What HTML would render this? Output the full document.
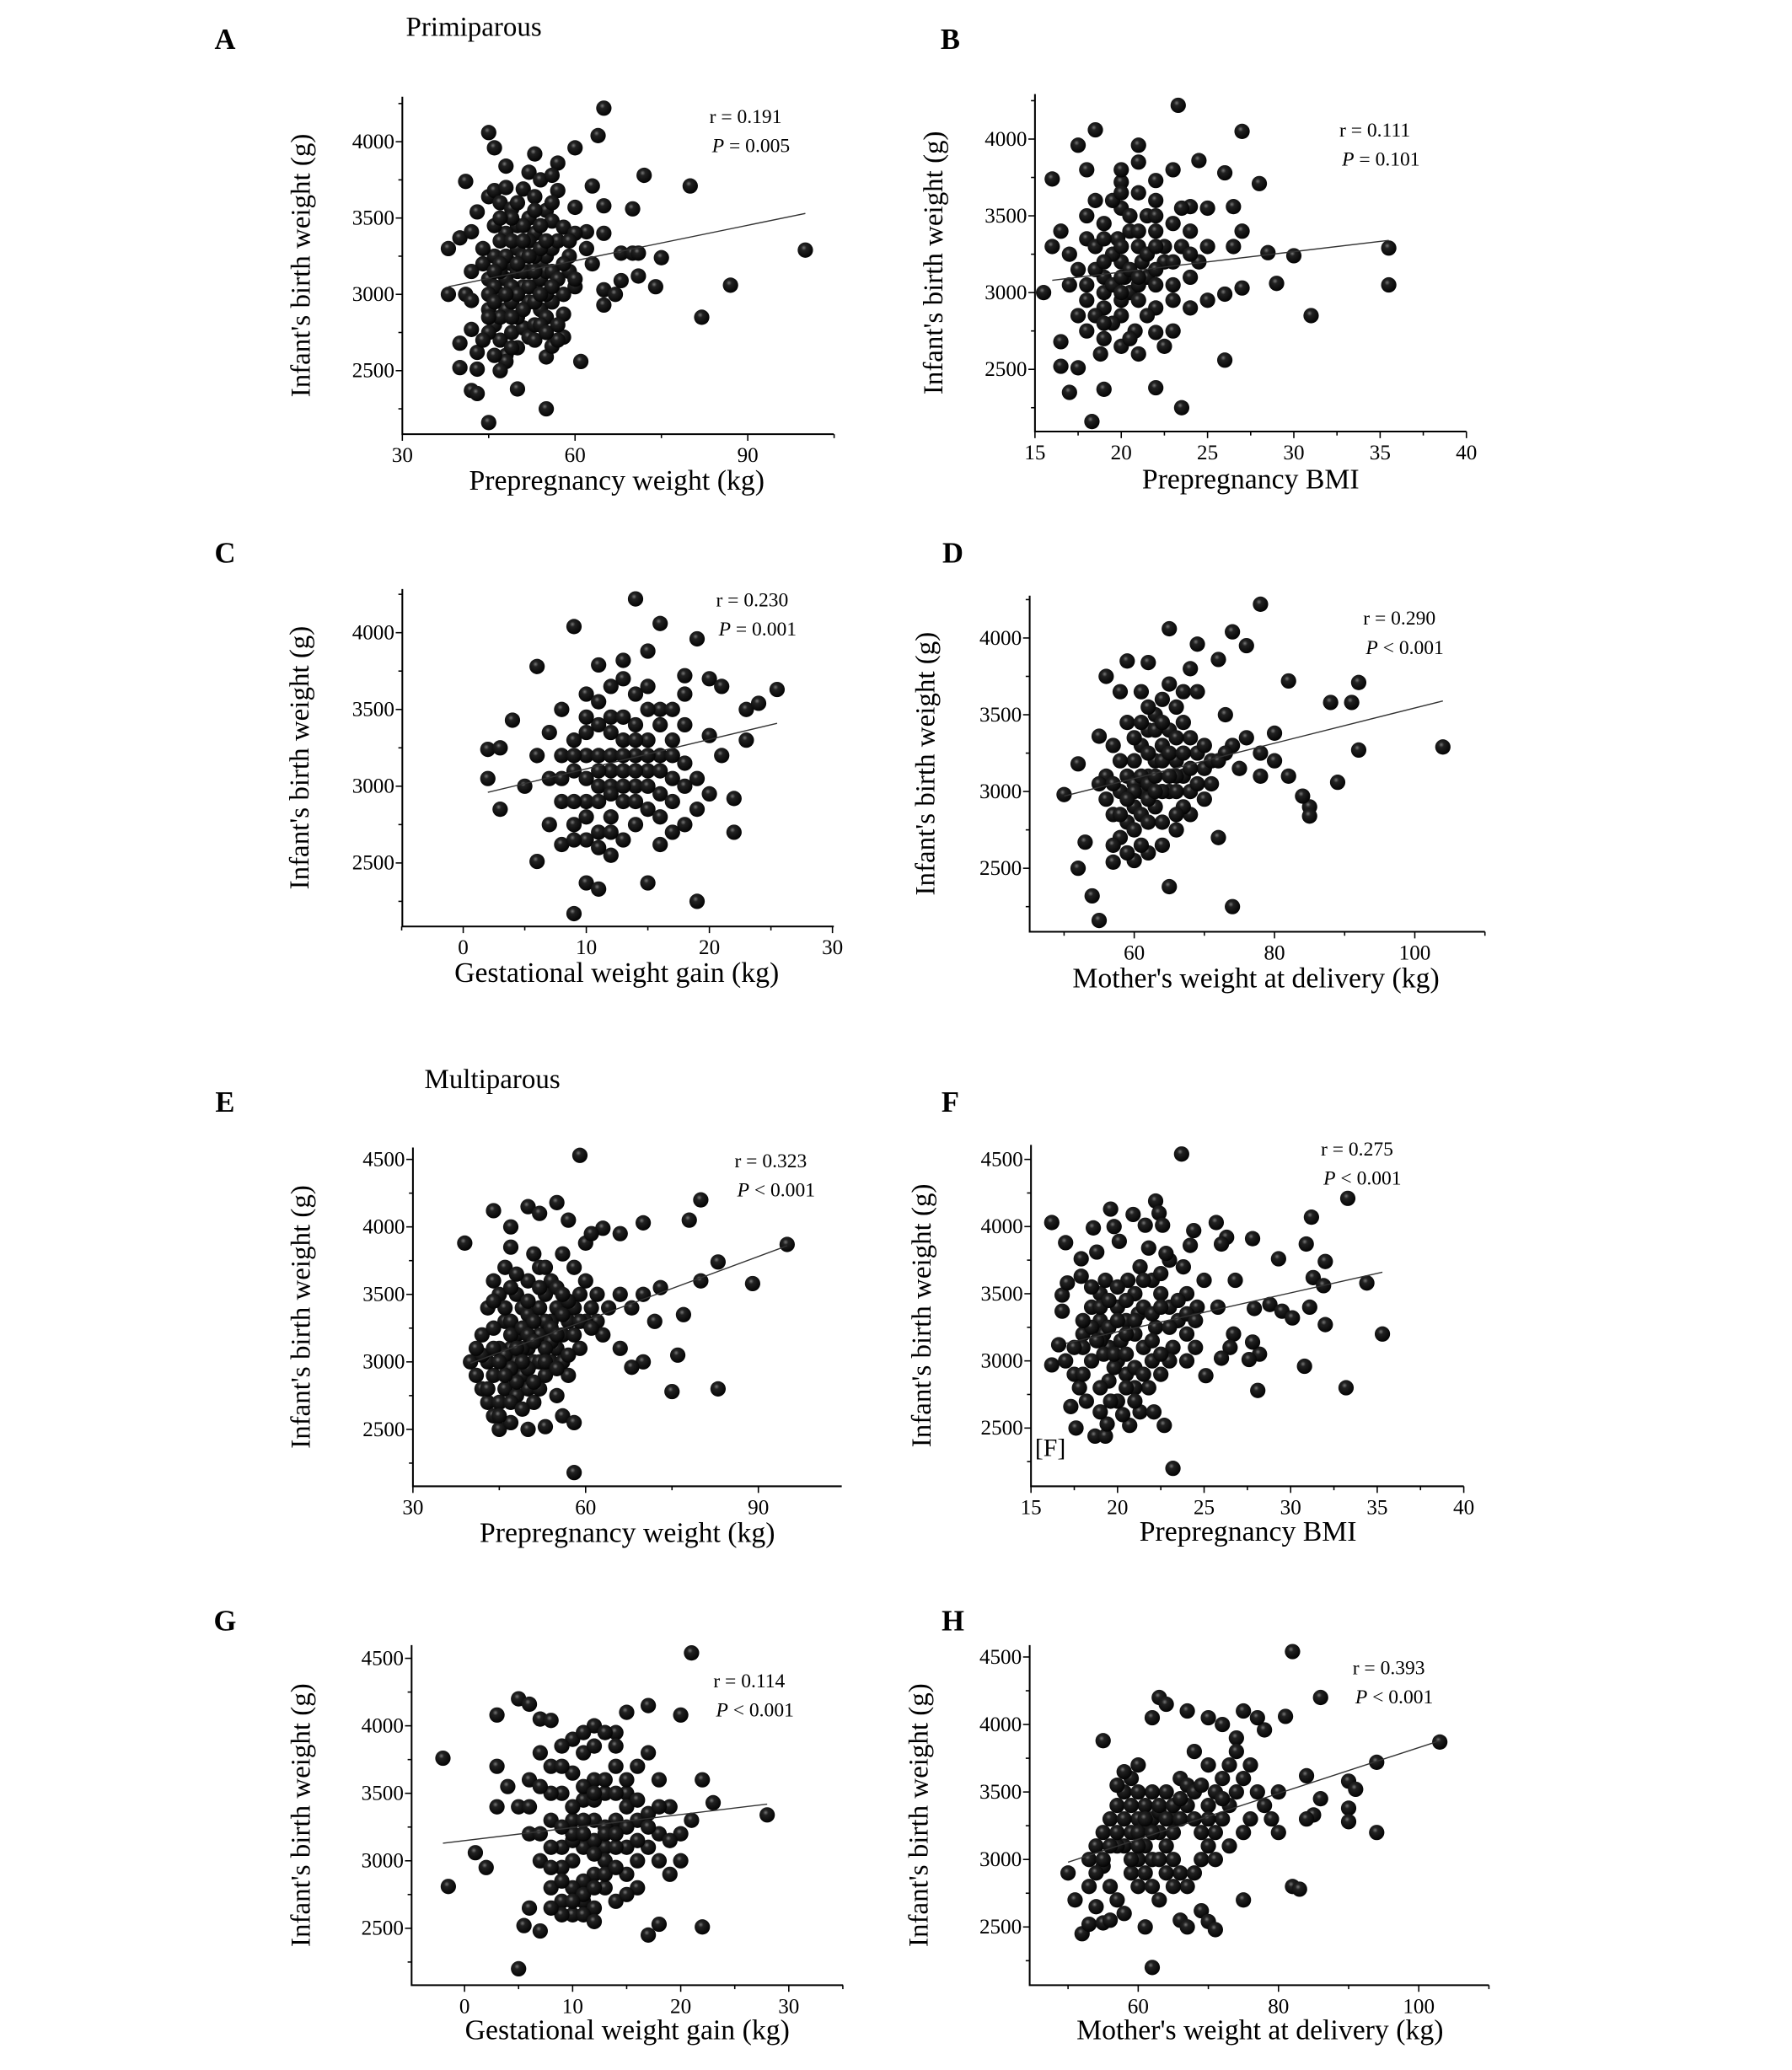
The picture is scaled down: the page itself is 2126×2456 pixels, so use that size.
<!DOCTYPE html>
<html><head><meta charset="utf-8"><style>
html,body{margin:0;padding:0;background:#fff;}
svg{display:block;font-family:"Liberation Serif",serif;}
</style></head><body>
<svg id="fig" width="2126" height="2456" viewBox="0 0 1354 1564" xmlns="http://www.w3.org/2000/svg">
<defs><radialGradient id="ball" cx="0.4" cy="0.35" r="0.7"><stop offset="0" stop-color="#777"/><stop offset="0.25" stop-color="#222"/><stop offset="1" stop-color="#000"/></radialGradient></defs>
<text x="358" y="27" font-size="21" text-anchor="middle">Primiparous</text>
<text x="372" y="822" font-size="21" text-anchor="middle">Multiparous</text>
</svg>
<script>
const ptsA=[[65,4220],[64,4040],[45,4060],[46,3960],[53,3920],[60,3960],[48,3840],[52,3800],[57,3860],[41,3740],[72,3780],[80,3710],[63,3710],[70,3560],[60,3570],[65,3580],[43,3540],[38,3300],[40,3370],[42,3410],[65,3400],[62,3410],[68,3270],[70,3270],[71,3270],[75,3240],[100,3290],[87,3060],[74,3050],[71,3120],[68,3090],[65,3030],[65,2930],[67,3000],[82,2850],[38,3000],[41,3000],[42,2960],[40,2680],[40,2520],[43,2510],[42,2770],[43,2620],[42,2370],[43,2350],[50,2380],[55,2250],[45,2160],[61,2560],[55,2590],[56,2660],[58,2720],[58,2870],[44,3200],[42,3150],[45,3640],[46,3680],[47,3600],[49,3560],[51,3690],[53,3640],[54,3750],[56,3780],[57,3680],[55,3550],[56,3480],[58,3440],[60,3400],[62,3300],[63,3200],[59,3150],[60,3050],[60,3100],[58,3000],[45,2900],[46,2800],[47,2700],[48,2600],[48,2560],[49,2750],[50,2650],[51,2780],[52,2720],[53,2800],[54,2900],[55,2850],[56,2950],[57,2700],[47,3000],[48,3100],[49,3200],[50,3300],[51,3250],[52,3150],[53,3050],[54,3200],[55,3250],[56,3300],[57,3350],[53,3400],[52,3500],[50,3450],[48,3400],[47,3350],[46,3250],[45,3100],[44,3300],[46,3050],[48,2900],[50,2850],[52,2950],[54,3100],[55,3150],[51,3050],[49,2950],[47,2850],[45,2750],[46,3450],[48,3700],[50,3600],[52,3350],[54,3450],[56,3150],[44,2700],[46,2600],[49,3050],[51,2900],[53,3250],[55,3000],[57,3100],[59,3250]];
const coreA=[[45,3000],[46,2950],[47,3150],[48,3250],[49,3350],[50,3150],[51,3150],[52,3050],[53,3150],[54,3300],[55,3350],[56,3050],[47,3200],[49,2850],[50,3000],[51,3350],[53,2950],[54,2800],[52,3250],[50,3200],[46,3150],[48,3000],[45,2850],[47,2500],[49,2650],[53,2700],[55,2750],[57,2800],[58,3200],[59,3350],[51,3450],[49,3500],[47,3500],[53,3550],[56,3600],[54,3000]];
const ptsB=[[23.3,4220],[27,4050],[18.5,4060],[17.5,3960],[21,3960],[23,3800],[24.5,3860],[26,3780],[28,3710],[16,3740],[18,3800],[20,3720],[22,3730],[24,3560],[26.5,3560],[27,3400],[28.5,3260],[30,3240],[35.5,3290],[35.5,3050],[31,2850],[29,3060],[27,3030],[26,2560],[22,2380],[23.5,2250],[18.3,2160],[17,2350],[19,2370],[16.5,2680],[16.5,2520],[17.5,2510],[15.5,3000],[16,3300],[16.5,3400],[17,3250],[24,3100],[25,3300],[26,2990],[25,2950],[23,2750],[22,2740],[21,2600],[20,2650],[19,2700],[18,2750],[17.5,2850],[18,2950],[19,3100],[20,3200],[21,3300],[22,3400],[23,3450],[19,3450],[18,3350],[20,3550],[21,3650],[19.5,3600],[20.5,3000],[21.5,3100],[22.5,3200],[23.5,3300],[19,2900],[20,2850],[21,2950],[22,3050],[18.5,3150],[19.5,3250],[20.5,3400],[21.5,3500],[22,3600],[20,3800],[21,3850],[24,3400],[25,3550],[23,3050],[24,2900],[22,2900],[18,3500],[17,3050],[20,2950],[19,3000],[20.2,3100],[21.2,3200],[19.8,3350],[20.8,2750],[18.8,2600],[22.5,2650],[24.5,3200],[26.5,3300]];
const coreB=[[19.5,3050],[20,3100],[20.5,3150],[21,3050],[19,3200],[18.5,3300],[20,3300],[21,3400],[22,3150],[22.5,3300],[19.5,2800],[20.5,2700],[21.5,2850],[18.5,2850],[17.5,3150],[19,3350],[20.5,3500],[21.5,3250],[22,3300],[23,3200],[23.5,3550],[19,2800],[20,3000],[21,3100],[18,3050],[22,3500],[20,3650],[18.5,3600],[24,3250],[23,2950]];
const ptsC=[[14,4220],[9,4040],[16,4060],[19,3960],[6,3780],[15,3880],[13,3820],[11,3790],[18,3720],[20,3700],[21,3650],[4,3430],[2,3240],[3,3250],[2,3050],[3,2850],[6,2510],[8,2620],[9,2170],[10,2370],[11,2330],[15,2370],[19,2250],[22,2700],[22,2920],[23,3300],[23,3500],[25.5,3630],[24,3540],[21,3200],[19,3050],[18,2750],[17,2700],[20,3330],[16,3500],[14,3600],[12,3650],[10,3600],[8,3500],[7,3350],[6,3200],[7,3050],[8,2900],[9,2750],[10,2650],[11,2700],[12,2800],[13,2900],[14,3000],[15,3100],[16,3200],[17,3300],[18,3400],[12,3100],[11,3000],[10,3200],[9,3100],[13,3300],[14,3400],[15,3500],[12,3450],[11,3400],[10,3350],[9,3300],[8,3200],[13,2650],[14,2750],[15,2850],[16,2950],[17,3050],[18,3150],[7,2750],[8,3050],[5,3000],[12,2550],[16,2620],[19,2850],[20,2950],[11,3200],[13,3100],[12,3000],[10,2900],[14,3200],[15,3300],[17,3500],[18,3600]];
const coreC=[[10,3050],[11,3100],[12,3200],[13,3000],[14,3100],[15,3000],[16,3100],[11,2900],[12,2700],[10,2800],[9,2900],[9,3200],[13,3200],[14,2900],[15,3200],[16,3400],[17,3200],[12,3350],[11,3550],[13,3450],[10,3450],[9,2650],[11,2600],[12,2950],[14,3300],[16,2800],[18,3000],[13,3700],[15,3650],[17,2900]];
const ptsD=[[78,4220],[65,4060],[74,4040],[76,3950],[69,3960],[72,3860],[62,3840],[68,3800],[56,3750],[82,3720],[92,3710],[91,3580],[88,3580],[104,3290],[92,3270],[89,3060],[85,2900],[85,2840],[84,2970],[80,3380],[78,3250],[55,3360],[52,3180],[50,2980],[53,2670],[52,2500],[54,2320],[55,2160],[57,2540],[65,2380],[74,2250],[72,2700],[78,3100],[75,3150],[71,3050],[70,2950],[68,2850],[66,2750],[64,2650],[62,2600],[60,2550],[58,2700],[57,2850],[58,3000],[59,3100],[60,3200],[61,3300],[62,3400],[63,3500],[64,3600],[65,3700],[66,3550],[67,3450],[68,3350],[69,3250],[70,3150],[60,2900],[61,3000],[62,3100],[63,3200],[64,3300],[65,3400],[66,3200],[67,3100],[68,3000],[63,2900],[64,2800],[65,3000],[66,3100],[56,3100],[57,3300],[59,3450],[61,3650],[73,3500],[74,3300],[76,3350],[82,3100],[80,3200],[58,3650],[55,3050],[60,3050],[62,2950],[61,2850],[59,2800],[67,2900],[69,3050],[71,3200],[73,3250]];
const coreD=[[60,3000],[61,3100],[62,3050],[63,3100],[64,3000],[65,3100],[66,3000],[59,2950],[58,2850],[60,2750],[61,2650],[62,2800],[63,3000],[64,3200],[65,3250],[66,3350],[67,3250],[68,3150],[63,3400],[62,3550],[60,3350],[58,3200],[57,3050],[56,2950],[57,2650],[59,2600],[66,2850],[67,3650],[70,3300],[72,3200],[69,3650],[59,3850],[62,3250],[64,3450],[61,3450]];
const ptsE=[[59,4530],[80,4200],[39,3880],[95,3870],[78,4050],[83,3740],[89,3580],[80,3600],[77,3350],[76,3050],[83,2800],[75,2780],[58,2180],[70,4030],[66,3950],[63,3990],[44,4120],[47,4000],[50,4150],[52,4100],[55,4180],[57,4050],[60,3880],[61,3950],[73,3550],[70,3500],[68,3400],[72,3300],[70,3000],[68,2960],[66,3100],[40,3000],[41,2900],[42,2800],[43,2700],[44,2600],[45,2500],[47,2550],[50,2500],[53,2520],[56,2600],[58,2550],[42,3200],[43,3400],[44,3600],[45,3500],[46,3300],[47,3100],[48,3000],[49,2900],[50,2800],[51,2700],[52,2800],[53,2900],[54,3000],[55,3100],[56,3200],[57,3300],[58,3400],[59,3500],[60,3600],[61,3400],[62,3300],[63,3200],[48,3200],[49,3400],[50,3600],[51,3800],[52,3700],[53,3500],[54,3300],[55,3400],[46,3700],[47,3850],[48,3500],[45,3100],[44,2900],[46,2800],[50,3100],[52,3200],[54,3600],[56,3800],[58,3700],[60,3300],[62,3500],[64,3400],[66,3500],[57,2900],[59,3100],[55,2750],[53,3300],[51,3000],[49,3100],[47,3300],[45,2700],[43,3000],[46,3050],[48,2750],[50,3350],[52,3000],[54,3150],[56,3000],[44,3250],[42,3050]];
const coreE=[[47,3200],[48,3100],[49,3250],[50,3200],[51,3300],[52,3400],[53,3100],[54,3250],[55,3200],[56,3350],[57,3450],[51,3150],[50,2950],[49,3000],[48,2850],[47,2950],[46,2900],[45,3000],[44,3100],[46,3400],[47,3550],[48,3650],[50,3450],[52,3550],[53,3700],[55,3550],[56,3500],[58,3200],[59,3300],[61,3250],[45,2600],[47,2700],[49,2650],[51,2850],[53,3000],[55,2950],[57,3050],[43,2800],[41,3100],[44,3450]];
const ptsF=[[23.7,4540],[33.3,4210],[22.2,4190],[19.6,4130],[20.9,4090],[22.4,4100],[16.2,4030],[18.6,3990],[19.8,4000],[21.6,4010],[22.6,4010],[25.7,4030],[24.4,3970],[26.3,3920],[27.8,3910],[31.2,4070],[30.9,3870],[17,3880],[20.1,3890],[21.8,3840],[24.2,3860],[26,3870],[17.9,3760],[18.8,3810],[29.3,3760],[32,3740],[31.3,3620],[31.9,3560],[34.4,3580],[35.3,3200],[33.2,2800],[30.8,2960],[28.1,2780],[28.2,3050],[28.8,3420],[29.5,3370],[30.1,3320],[31.1,3400],[32,3270],[27.9,3390],[27.8,3140],[26.7,3200],[26.5,3100],[27.6,3010],[26,3020],[25.1,2890],[22.7,2520],[23.2,2200],[17.6,2500],[18.7,2440],[19.3,2440],[19.4,2530],[20.7,2520],[16.2,2970],[16.6,3120],[17,3000],[16.8,3370],[16.8,3490],[17.1,3580],[17.9,3630],[17.3,2660],[17.8,2800],[18.2,2700],[19,2620],[20.3,2600],[21.3,2620],[22.1,2620],[21.8,2800],[18,3200],[18.5,3400],[19,3300],[19.5,3100],[20,3000],[20.5,2900],[21,2800],[19,3500],[19.3,3600],[20,3400],[20.5,3300],[21,3200],[21.5,3100],[22,3000],[22.5,2900],[21,3500],[21.3,3700],[22,3600],[22.5,3500],[23,3400],[23.5,3300],[24,3200],[24.5,3100],[24,3500],[24.6,3400],[25,3600],[25.8,3400],[26.8,3600],[23,3750],[22.8,3800],[23.8,3700],[18.5,3000],[19.5,2850],[20,2700],[17.5,2900],[18,3100],[19.2,3200],[20.2,3150],[21.2,3350],[22.2,3250],[23.2,3100],[23,3000],[24,3000],[20.6,3600],[19.8,2950]];
const coreF=[[19,3150],[19.5,3250],[20,3300],[20.5,3200],[21,3300],[21.5,3400],[22,3350],[18.5,3250],[18.8,3150],[19.2,3050],[19.8,3050],[20.5,3050],[21,2950],[21.5,2900],[22,3150],[22.5,3050],[23,3250],[23.5,3450],[24,3350],[19,3400],[19.5,3450],[20,3550],[20.5,3450],[21.5,3600],[22.5,3650],[18.5,3550],[19,2800],[19.6,2700],[20.5,2800],[21,2700],[18,2900],[17.5,3100],[18,3300],[22.5,3400],[24.5,3300]];
const ptsG=[[21,4540],[-2,3760],[-1.5,2810],[3,4080],[5,4200],[6,4160],[7,4050],[8,4040],[15,4100],[17,4150],[20,4080],[12,4000],[14,3950],[22,3600],[23,3430],[28,3340],[22,2510],[18,2530],[17,2450],[5,2200],[5.5,2520],[7,2480],[6,2650],[2,2950],[1,3060],[3,3400],[4,3550],[3,3700],[20,3000],[20,3200],[19,3400],[18,3600],[17,3800],[16,3700],[15,3500],[14,3300],[13,3100],[12,2900],[11,2700],[10,2600],[9,2700],[8,2800],[7,3000],[6,3200],[5,3400],[6,3600],[7,3800],[8,3700],[9,3500],[10,3300],[11,3100],[12,3300],[13,3500],[14,3700],[10,3900],[9,3100],[8,3300],[10,3000],[11,3450],[12,3600],[13,2800],[14,2700],[15,2900],[16,3000],[17,3100],[18,3200],[16,3300],[15,3100],[11,2850],[9,2950],[7,3200],[8,3500],[12,3150],[13,3250],[10,3400],[16,2800],[19,2900],[21,3300],[9,3850],[11,3950],[10,3150],[11,3300],[12,3450],[13,3000],[14,3100],[15,3250],[9,2600],[12,2650]];
const coreG=[[10,3200],[11,3200],[12,3050],[13,3200],[14,3200],[15,3400],[16,3450],[17,3350],[18,3400],[9,3250],[8,3100],[10,2800],[11,2750],[12,2800],[13,2900],[14,2950],[9,2850],[8,2650],[10,2700],[11,3550],[12,3500],[13,3600],[14,3500],[15,3600],[10,3650],[9,3700],[11,3800],[12,3850],[16,3150],[17,3250],[18,3000],[19,3150],[15,2750],[14,3850],[13,3950],[6,3400],[7,3550],[8,2950],[11,2600],[12,2550]];
const ptsH=[[82,4540],[86,4200],[81,4060],[103,3870],[94,3720],[90,3580],[91,3520],[90,3380],[90,3280],[94,3200],[85,3330],[82,2800],[83,2780],[84,3620],[78,3960],[77,4050],[75,4100],[72,4000],[70,4050],[67,4100],[63,4200],[64,4150],[62,4050],[55,3880],[51,2700],[52,2450],[53,2520],[55,2530],[58,2600],[61,2500],[62,2200],[66,2550],[67,2500],[69,2620],[70,2540],[71,2480],[75,2700],[50,2900],[53,3000],[54,3100],[55,3200],[56,3300],[57,3400],[58,3500],[59,3600],[60,3700],[61,3400],[62,3300],[63,3200],[64,3100],[65,3000],[66,2900],[67,2800],[68,2900],[69,3000],[70,3100],[71,3200],[72,3300],[73,3400],[74,3500],[75,3600],[76,3700],[77,3500],[78,3400],[79,3300],[80,3200],[58,3100],[59,3200],[60,3300],[61,3100],[62,3000],[56,2800],[57,2700],[60,2800],[64,3500],[66,3600],[68,3800],[70,3700],[72,3600],[74,3900],[76,3300],[80,3500],[84,3300],[86,3450],[54,2650],[56,2550],[60,3000],[61,3250],[63,3350],[65,3300],[59,2900],[62,3500],[57,3100],[55,2950]];
const coreH=[[58,3300],[59,3400],[60,3200],[60,3500],[61,3300],[62,3200],[63,3400],[64,3300],[65,3200],[66,3300],[67,3400],[68,3300],[69,3200],[70,3400],[59,3000],[60,3100],[61,2900],[63,3000],[64,2900],[65,3400],[66,3450],[67,3550],[68,3500],[69,3550],[70,3300],[71,3500],[72,3450],[73,3700],[74,3800],[57,3200],[56,3100],[55,3000],[54,2900],[53,2800],[57,3550],[58,3650],[62,2800],[63,2700],[65,2800],[71,3000],[73,3100],[75,3200]];
const fitA=[[38,3050],[100,3530]];
const fitB=[[16,3080],[35.5,3340]];
const fitC=[[2,2960],[25.5,3410]];
const fitD=[[50,2970],[104,3590]];
const fitE=[[40,2990],[95,3860]];
const fitF=[[17,3130],[35.3,3660]];
const fitG=[[-2,3130],[28,3420]];
const fitH=[[50,2980],[103,3880]];
const ticksX1=[30,60,90], minorX1=[45,75,105];
const ticksBMI=[15,20,25,30,35,40], minorBMI=[17.5,22.5,27.5,32.5,37.5];
const ticksGWG=[0,10,20,30], minorGWG=[-5,5,15,25,35];
const ticksDel=[60,80,100], minorDel=[50,70,90,110];
const ticksY1=[2500,3000,3500,4000], minorY1=[2250,2750,3250,3750,4250];
const ticksY2=[2500,3000,3500,4000,4500], minorY2=[2250,2750,3250,3750,4250];
const statsR=["0.191","0.111","0.230","0.290","0.323","0.275","0.114","0.393"];
const statsP=["= 0.005","= 0.101","= 0.001","< 0.001","< 0.001","< 0.001","< 0.001","< 0.001"];

const NS="http://www.w3.org/2000/svg";
const svg=document.getElementById('fig');
function el(t,a,p){const e=document.createElementNS(NS,t);for(const k in a)e.setAttribute(k,a[k]);(p||svg).appendChild(e);return e;}
const panels=[
 {id:'a',L:'A',pts:ptsA.concat(coreA),fit:fitA,xv:[30,90],xp:[304,565],yv:[4000,2500],yp:[107,280],l:304,r:630,t:73,b:328,xt:ticksX1,xm:minorX1,yt:ticksY1,ym:minorY1,xl:'Prepregnancy weight (kg)',xlx:466,xly:370,ylx:234,lx:170,ly:37,rx:536,ry:93},
 {id:'b',L:'B',pts:ptsB.concat(coreB),fit:fitB,xv:[15,40],xp:[782,1108],yv:[4000,2500],yp:[105,279],l:782,r:1108,t:71,b:326,xt:ticksBMI,xm:minorBMI,yt:ticksY1,ym:minorY1,xl:'Prepregnancy BMI',xlx:945,xly:369,ylx:712,lx:718,ly:37,rx:1012,ry:103},
 {id:'c',L:'C',pts:ptsC.concat(coreC),fit:fitC,xv:[0,30],xp:[350,629],yv:[4000,2500],yp:[478,652],l:304,r:630,t:445,b:700,xt:ticksGWG,xm:[-5,5,15,25],yt:ticksY1,ym:minorY1,xl:'Gestational weight gain (kg)',xlx:466,xly:742,ylx:233,lx:170,ly:425,rx:541,ry:458},
 {id:'d',L:'D',pts:ptsD.concat(coreD),fit:fitD,xv:[60,100],xp:[857,1069],yv:[4000,2500],yp:[482,656],l:778,r:1122,t:450,b:704,xt:ticksDel,xm:minorDel,yt:ticksY1,ym:minorY1,xl:"Mother's weight at delivery (kg)",xlx:949,xly:746,ylx:706,lx:720,ly:425,rx:1030,ry:472},
 {id:'e',L:'E',pts:ptsE.concat(coreE),fit:fitE,xv:[30,90],xp:[312,573],yv:[4500,2500],yp:[876,1080],l:312,r:636,t:867,b:1123,xt:ticksX1,xm:minorX1,yt:ticksY2,ym:minorY2,xl:'Prepregnancy weight (kg)',xlx:474,xly:1165,ylx:234,lx:170,ly:840,rx:555,ry:882},
 {id:'f',L:'F',pts:ptsF.concat(coreF),fit:fitF,xv:[15,40],xp:[779,1106],yv:[4500,2500],yp:[876,1079],l:779,r:1106,t:865,b:1123,xt:ticksBMI,xm:minorBMI,yt:ticksY2,ym:minorY2,xl:'Prepregnancy BMI',xlx:943,xly:1164,ylx:703,lx:718,ly:840,rx:998,ry:873},
 {id:'g',L:'G',pts:ptsG.concat(coreG),fit:fitG,xv:[0,30],xp:[351,596],yv:[4500,2500],yp:[1253,1457],l:311,r:637,t:1243,b:1500,xt:ticksGWG,xm:minorGWG,yt:ticksY2,ym:minorY2,xl:'Gestational weight gain (kg)',xlx:474,xly:1541,ylx:234,lx:170,ly:1232,rx:539,ry:1275},
 {id:'h',L:'H',pts:ptsH.concat(coreH),fit:fitH,xv:[60,100],xp:[860,1072],yv:[4500,2500],yp:[1252,1456],l:778,r:1125,t:1243,b:1500,xt:ticksDel,xm:minorDel,yt:ticksY2,ym:minorY2,xl:"Mother's weight at delivery (kg)",xlx:952,xly:1541,ylx:701,lx:720,ly:1232,rx:1022,ry:1265}
];
panels.forEach((P,i)=>{
 const sx=v=>P.xp[0]+(v-P.xv[0])*(P.xp[1]-P.xp[0])/(P.xv[1]-P.xv[0]);
 const sy=v=>P.yp[0]+(v-P.yv[0])*(P.yp[1]-P.yp[0])/(P.yv[1]-P.yv[0]);
 const g=el('g',{});
 
 
 const lt=el('text',{x:P.lx,y:P.ly,'font-size':22,'font-weight':'bold','text-anchor':'middle'},g);lt.textContent=P.L;
 
 
 const ax=el('path',{d:`M${P.l},${P.t}V${P.b}H${P.r}`,stroke:'#000','stroke-width':1.3,fill:'none'},g);
 
 
 P.xt.forEach(v=>{const x=sx(v);el('line',{x1:x,x2:x,y1:P.b,y2:P.b+5,stroke:'#000'},g);
  const t=el('text',{x:x,y:P.b+21,'font-size':16,'text-anchor':'middle'},g);t.textContent=v;
  
  });
 P.xm.forEach(v=>{const x=sx(v);if(x>=P.l-0.5&&x<=P.r+0.5)el('line',{x1:x,x2:x,y1:P.b,y2:P.b+3,stroke:'#000'},g);});
 P.yt.forEach(v=>{const y=sy(v);el('line',{x1:P.l-5,x2:P.l,y1:y,y2:y,stroke:'#000'},g);
  const t=el('text',{x:P.l-6,y:y+5,'font-size':16,'text-anchor':'end'},g);t.textContent=v;
  
  });
 P.ym.forEach(v=>{const y=sy(v);if(y>=P.t&&y<=P.b)el('line',{x1:P.l-3,x2:P.l,y1:y,y2:y,stroke:'#000'},g);});
 const xt=el('text',{x:P.xlx,y:P.xly,'font-size':21.5,'text-anchor':'middle'},g);xt.textContent=P.xl;
 
 
 const cy=(P.t+P.b)/2;
 const yt=el('text',{x:P.ylx,y:cy,'font-size':21,'text-anchor':'middle',transform:`rotate(-90 ${P.ylx} ${cy})`},g);yt.textContent="Infant's birth weight (g)";
 
 
 P.pts.forEach(p=>{const c=el('circle',{cx:sx(p[0]),cy:sy(p[1]),r:5.8,fill:'url(#ball)'},g);
  
  });
 const fl=el('line',{x1:sx(P.fit[0][0]),y1:sy(P.fit[0][1]),x2:sx(P.fit[1][0]),y2:sy(P.fit[1][1]),stroke:'#333','stroke-width':0.9},g);
 
 
 const r1=el('text',{x:P.rx,y:P.ry,'font-size':15},g);r1.textContent='r = '+statsR[i];
 
 
 const r2=el('text',{x:P.rx+2,y:P.ry+22,'font-size':15},g);
 
 
 const ts=el('tspan',{'font-style':'italic'},r2);ts.textContent='P';
 const ts2=el('tspan',{},r2);ts2.textContent=' '+statsP[i];
});
const fl=el('text',{x:782,y:1100,'font-size':19});fl.textContent='[F]';


</script>
</body></html>
